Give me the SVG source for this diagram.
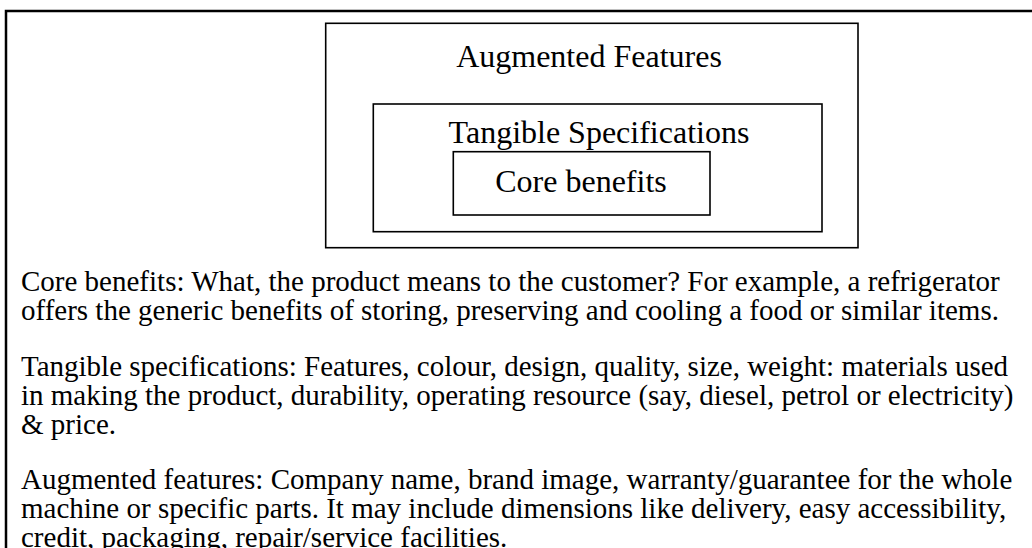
<svg xmlns="http://www.w3.org/2000/svg" width="1032" height="548" viewBox="0 0 1032 548">
<style>
.box{fill:none;stroke:#000;stroke-width:1.6}
.lbl{font-family:"Liberation Serif","Times New Roman",serif;font-size:32px;fill:#000;text-anchor:middle}
.body{font-family:"Liberation Serif","Times New Roman",serif;font-size:29px;fill:#000}
</style>
<rect x="0" y="0" width="1032" height="548" fill="#fff"/>
<rect x="6" y="11" width="1030" height="600" fill="none" stroke="#000" stroke-width="2.5"/>
<g id="augmented">
<rect class="box" x="325.7" y="23.3" width="532.3" height="224.4"/>
<text class="lbl" x="589" y="67">Augmented Features</text>
</g>
<g id="tangible">
<rect class="box" x="373.3" y="104" width="448.7" height="127.7"/>
<text class="lbl" x="599" y="143">Tangible Specifications</text>
</g>
<g id="core">
<rect class="box" x="453.3" y="151.7" width="256.7" height="63.3"/>
<text class="lbl" x="581" y="192">Core benefits</text>
</g>
<g id="connectors"></g>
<g id="description">
<text class="body" x="21" y="291">Core benefits: What, the product means to the customer? For example, a refrigerator</text>
<text class="body" x="21" y="320">offers the generic benefits of storing, preserving and cooling a food or similar items.</text>
<text class="body" x="21" y="375.5">Tangible specifications: Features, colour, design, quality, size, weight: materials used</text>
<text class="body" x="21" y="404.5">in making the product, durability, operating resource (say, diesel, petrol or electricity)</text>
<text class="body" x="21" y="433.5">&amp; price.</text>
<text class="body" x="21" y="489">Augmented features: Company name, brand image, warranty/guarantee for the whole</text>
<text class="body" x="21" y="518">machine or specific parts. It may include dimensions like delivery, easy accessibility,</text>
<text class="body" x="21" y="547">credit, packaging, repair/service facilities.</text>
</g>
</svg>
